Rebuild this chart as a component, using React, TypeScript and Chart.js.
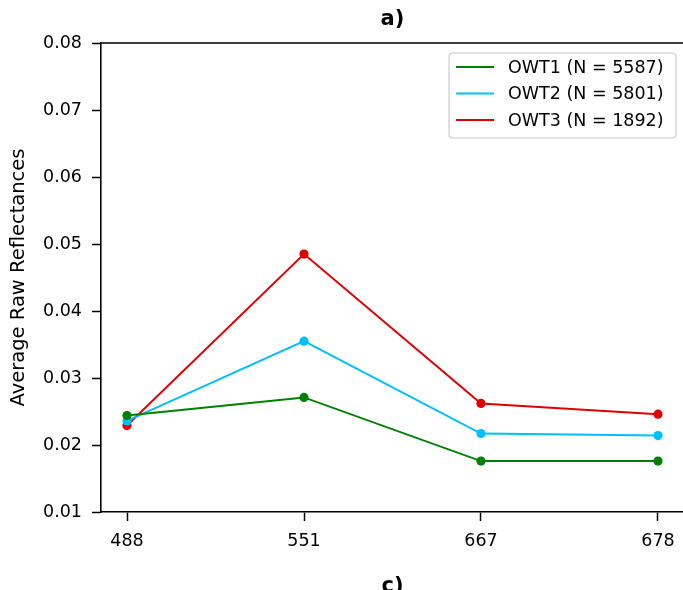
import React, { useEffect, useRef } from 'react';
import { Chart, registerables } from 'chart.js';

Chart.register(...registerables);

const wavelengths = ['488', '551', '667', '678'];
const owt1 = [0.0244, 0.0271, 0.0176, 0.0176];
const owt2 = [0.0236, 0.0355, 0.0217, 0.0214];
const owt3 = [0.0229, 0.0485, 0.0262, 0.0246];
const seriesLabels = ['OWT1 (N = 5587)', 'OWT2 (N = 5801)', 'OWT3 (N = 1892)'];
const seriesColors = ['#008000', '#00bfff', '#e00000'];
const yTickValues = [0.01, 0.02, 0.03, 0.04, 0.05, 0.06, 0.07, 0.08];
const titleTop = 'a)';
const titleBottom = 'c)';
const yAxisLabel = 'Average Raw Reflectances';

const FONT = '"DejaVu Sans", sans-serif';
const FS = 17.5;

const decorPlugin = {
  id: 'decor',
  afterDraw(chart: any) {
    const ctx = chart.ctx;
    const a = chart.chartArea;
    ctx.save();
    // top and right spines
    ctx.strokeStyle = '#000';
    ctx.lineWidth = 1.6;
    ctx.beginPath();
    ctx.moveTo(a.left, a.top);
    ctx.lineTo(a.right, a.top);
    ctx.moveTo(a.right, a.top);
    ctx.lineTo(a.right, a.bottom);
    ctx.stroke();
    // titles
    const cx = (a.left + a.right) / 2;
    ctx.fillStyle = '#000';
    ctx.font = `bold 21px ${FONT}`;
    ctx.textAlign = 'center';
    ctx.textBaseline = 'middle';
    ctx.fillText(titleTop, cx, 20);
    ctx.fillText(titleBottom, cx, 587);
    // legend
    const bx = 449, by = 53, bw = 227, bh = 85, r = 4;
    ctx.beginPath();
    ctx.moveTo(bx + r, by);
    ctx.lineTo(bx + bw - r, by);
    ctx.quadraticCurveTo(bx + bw, by, bx + bw, by + r);
    ctx.lineTo(bx + bw, by + bh - r);
    ctx.quadraticCurveTo(bx + bw, by + bh, bx + bw - r, by + bh);
    ctx.lineTo(bx + r, by + bh);
    ctx.quadraticCurveTo(bx, by + bh, bx, by + bh - r);
    ctx.lineTo(bx, by + r);
    ctx.quadraticCurveTo(bx, by, bx + r, by);
    ctx.closePath();
    ctx.fillStyle = 'rgba(255,255,255,0.85)';
    ctx.fill();
    ctx.strokeStyle = '#cccccc';
    ctx.lineWidth = 1.2;
    ctx.stroke();
    ctx.font = `${FS}px ${FONT}`;
    ctx.textAlign = 'left';
    ctx.textBaseline = 'middle';
    chart.data.datasets.forEach((ds: any, i: number) => {
      const y = 67 + i * 26.5;
      ctx.strokeStyle = ds.borderColor;
      ctx.lineWidth = 2;
      ctx.beginPath();
      ctx.moveTo(456, y);
      ctx.lineTo(494, y);
      ctx.stroke();
      ctx.fillStyle = '#000';
      ctx.fillText(ds.label, 508, y + 1);
    });
    ctx.restore();
  },
};

export default function App() {
  const ref = useRef<HTMLCanvasElement>(null);
  useEffect(() => {
    if (!ref.current) return;
    const series = [owt1, owt2, owt3];
    const chart = new Chart(ref.current, {
      type: 'line',
      data: {
        datasets: series.map((vals, i) => ({
          label: seriesLabels[i],
          data: vals.map((v, j) => ({ x: j, y: v })),
          borderColor: seriesColors[i],
          backgroundColor: seriesColors[i],
          pointBackgroundColor: seriesColors[i],
          pointBorderColor: seriesColors[i],
          borderWidth: 2,
          pointRadius: 4.6,
          pointBorderWidth: 0,
          tension: 0,
        })),
      },
      options: {
        responsive: false,
        animation: false,
        devicePixelRatio: 1,
        layout: { padding: { left: 0, right: 6, top: 43, bottom: 0 } },
        plugins: {
          legend: { display: false },
          tooltip: { enabled: false },
          title: { display: false },
        },
        scales: {
          x: {
            type: 'linear',
            min: -0.147,
            max: 3.147,
            afterBuildTicks(scale: any) {
              scale.ticks = wavelengths.map((_, i) => ({ value: i }));
            },
            afterFit(scale: any) {
              scale.height = 78;
            },
            ticks: {
              callback: (v: any) => wavelengths[v as number] ?? '',
              color: '#000',
              font: { family: FONT, size: FS },
              padding: 10,
              maxRotation: 0,
              autoSkip: false,
            },
            grid: {
              display: true,
              drawOnChartArea: false,
              drawTicks: true,
              tickLength: 9,
              tickWidth: 1.5,
              color: '#000',
            },
            border: { display: true, color: '#000', width: 1.6 },
          },
          y: {
            type: 'linear',
            min: 0.01,
            max: 0.08,
            afterBuildTicks(scale: any) {
              scale.ticks = yTickValues.map((v) => ({ value: v }));
            },
            afterFit(scale: any) {
              scale.width = 101;
            },
            ticks: {
              callback: (v: any) => Number(v).toFixed(2),
              color: '#000',
              font: { family: FONT, size: FS },
              padding: 10,
            },
            grid: {
              display: true,
              drawOnChartArea: false,
              drawTicks: true,
              tickLength: 9,
              tickWidth: 1.5,
              color: '#000',
            },
            border: { display: true, color: '#000', width: 1.6 },
            title: {
              display: true,
              text: yAxisLabel,
              color: '#000',
              font: { family: FONT, size: 19.5 },
              padding: { top: 7, bottom: 0 },
            },
          },
        },
      },
      plugins: [decorPlugin],
    });
    return () => chart.destroy();
  }, []);
  return (
    <div
      style={{
        position: 'fixed',
        left: 0,
        top: 0,
        width: 683,
        height: 590,
        overflow: 'hidden',
        background: '#fff',
      }}
    >
      <canvas ref={ref} width={690} height={590} style={{ width: 690, height: 590, display: 'block' }} />
    </div>
  );
}
